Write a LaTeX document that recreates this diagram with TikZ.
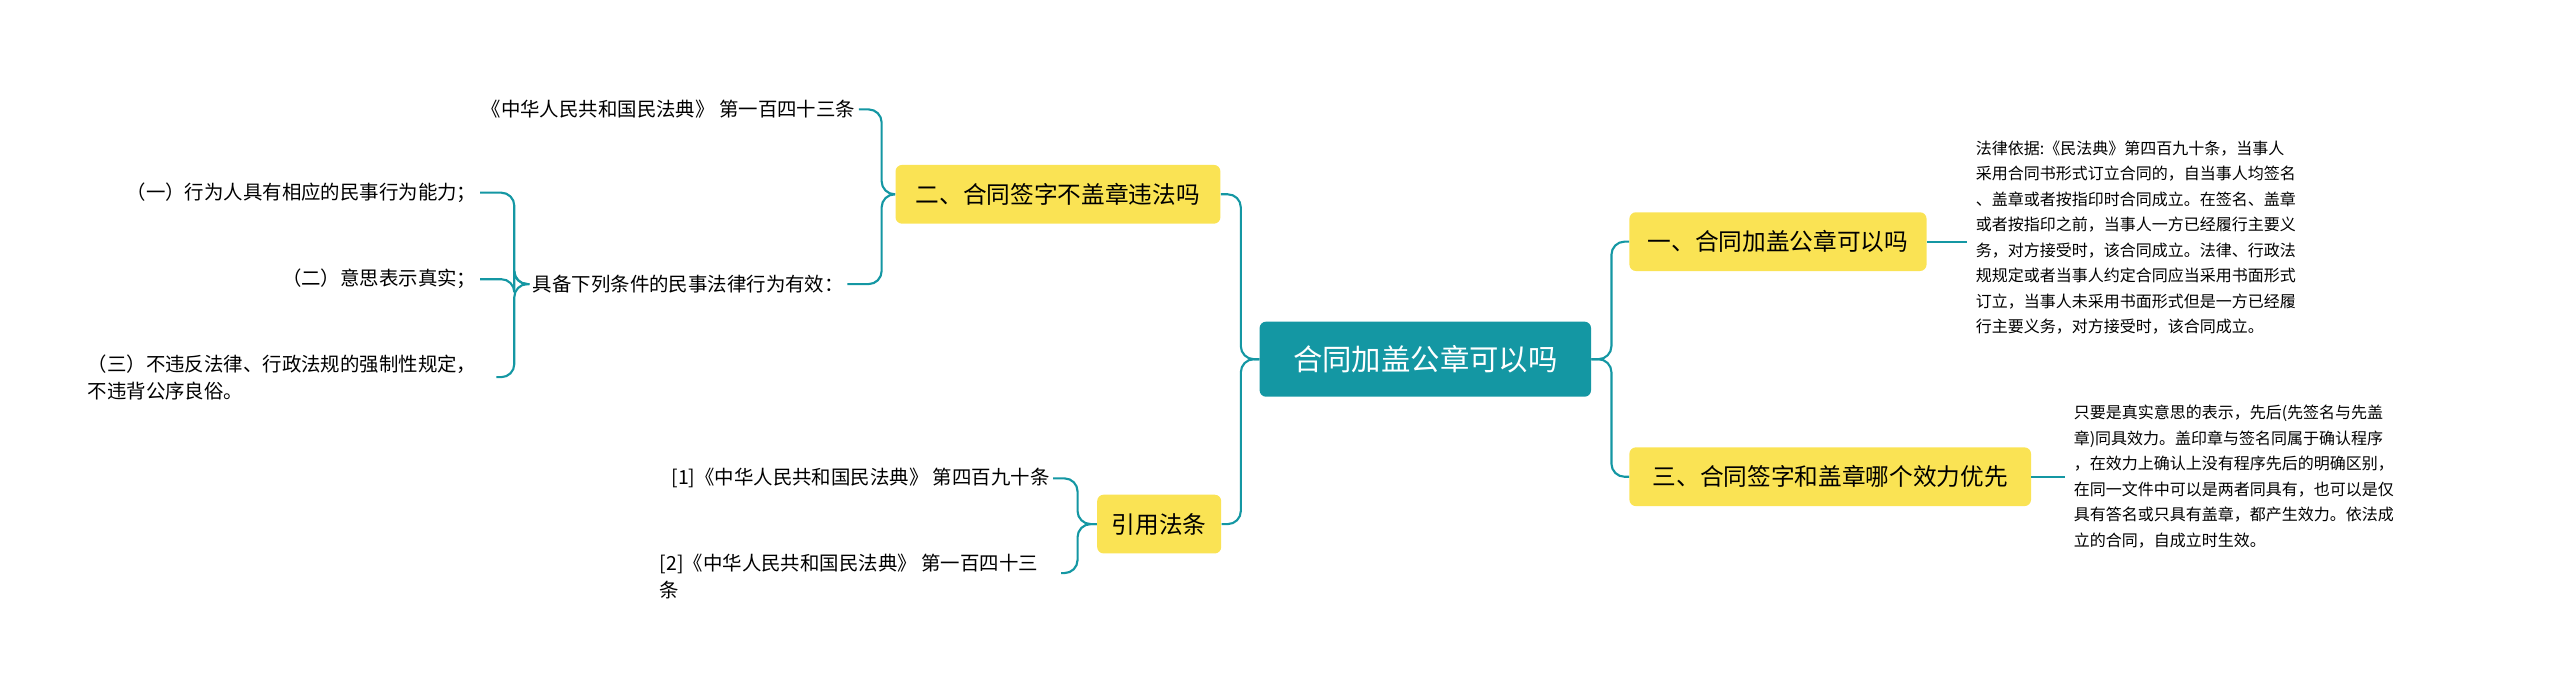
\documentclass[tikz,border=0pt]{standalone}
\usepackage{fontspec}
\setmainfont{Noto Sans CJK SC}
\definecolor{teal1}{HTML}{1497A3}
\definecolor{yel}{HTML}{FAE354}
\begin{document}
\begin{tikzpicture}[x=1pt,y=-1pt,
 conn/.style={draw=teal1,line width=1.3pt,rounded corners=8pt},
 root/.style={fill=teal1,text=white,rounded corners=4pt,minimum width=203pt,minimum height=46pt,font=\fontsize{18}{20}\selectfont},
 br/.style={fill=yel,rounded corners=4pt,minimum height=36pt,inner xsep=2pt,font=\fontsize{14.5}{16}\selectfont},
 leaf/.style={font=\fontsize{11.9}{16.5}\selectfont,align=left,inner sep=2pt},
 para/.style={font=\fontsize{9.8}{15.6}\selectfont,align=left,inner sep=0pt,anchor=north west}]
\useasboundingbox (0,0) rectangle (1568,424);
\node[root] (c) at (873,220) {合同加盖公章可以吗};
\node[br,minimum width=182pt] (r1) at (1089,148) {一、合同加盖公章可以吗};
\node[br,minimum width=246pt] (r2) at (1121,292) {三、合同签字和盖章哪个效力优先};
\node[br,minimum width=199pt] (l1) at (648,119) {二、合同签字不盖章违法吗};
\node[br,minimum width=76pt] (l2) at (710,321) {引用法条};
\draw[conn] (c.east) -- (987,220) |- (r1.west);
\draw[conn] (c.east) -- (987,220) |- (r2.west);
\draw[conn] (c.west) -- (760,220) |- (l1.east);
\draw[conn] (c.west) -- (760,220) |- (l2.east);
\node[para] (p1) at (1210,86) {法律依据:《民法典》第四百九十条，当事人\\采用合同书形式订立合同的，自当事人均签名\\、盖章或者按指印时合同成立。在签名、盖章\\或者按指印之前，当事人一方已经履行主要义\\务，对方接受时，该合同成立。法律、行政法\\规规定或者当事人约定合同应当采用书面形式\\订立，当事人未采用书面形式但是一方已经履\\行主要义务，对方接受时，该合同成立。};
\node[para] (p2) at (1270,248) {只要是真实意思的表示，先后(先签名与先盖\\章)同具效力。盖印章与签名同属于确认程序\\，在效力上确认上没有程序先后的明确区别，\\在同一文件中可以是两者同具有，也可以是仅\\具有答名或只具有盖章，都产生效力。依法成\\立的合同，自成立时生效。};
\coordinate (p1a) at (1205,148);
\coordinate (p2a) at (1265,292);
\draw[conn] (r1.east) -- (p1a);
\draw[conn] (r2.east) -- (p2a);
\node[leaf,anchor=east] (a1) at (526,67) {《中华人民共和国民法典》 第一百四十三条};
\node[leaf,anchor=east] (a2) at (519,174) {具备下列条件的民事法律行为有效：};
\draw[conn] (l1.west) -- (540,119) |- (a1.east);
\draw[conn] (l1.west) -- (540,119) |- (a2.east);
\node[leaf,anchor=east] (b1) at (294,118) {（一）行为人具有相应的民事行为能力；};
\node[leaf,anchor=east] (b2) at (294,171) {（二）意思表示真实；};
\node[leaf,anchor=east] (b3) at (294,231) {（三）不违反法律、行政法规的强制性规定，\\不违背公序良俗。};
\draw[conn] (a2.west) -- (315,174) |- (b1.east);
\draw[conn] (a2.west) -- (315,174) |- (b2.east);
\draw[conn] (a2.west) -- (315,174) |- (304,231);
\node[leaf,anchor=east] (d1) at (645,293) {[1]《中华人民共和国民法典》 第四百九十条};
\node[leaf,anchor=west] (d2) at (402,353) {[2]《中华人民共和国民法典》 第一百四十三\\条};
\draw[conn] (l2.west) -- (660,321) |- (d1.east);
\draw[conn] (l2.west) -- (660,321) |- (650,351);
\end{tikzpicture}
\end{document}
